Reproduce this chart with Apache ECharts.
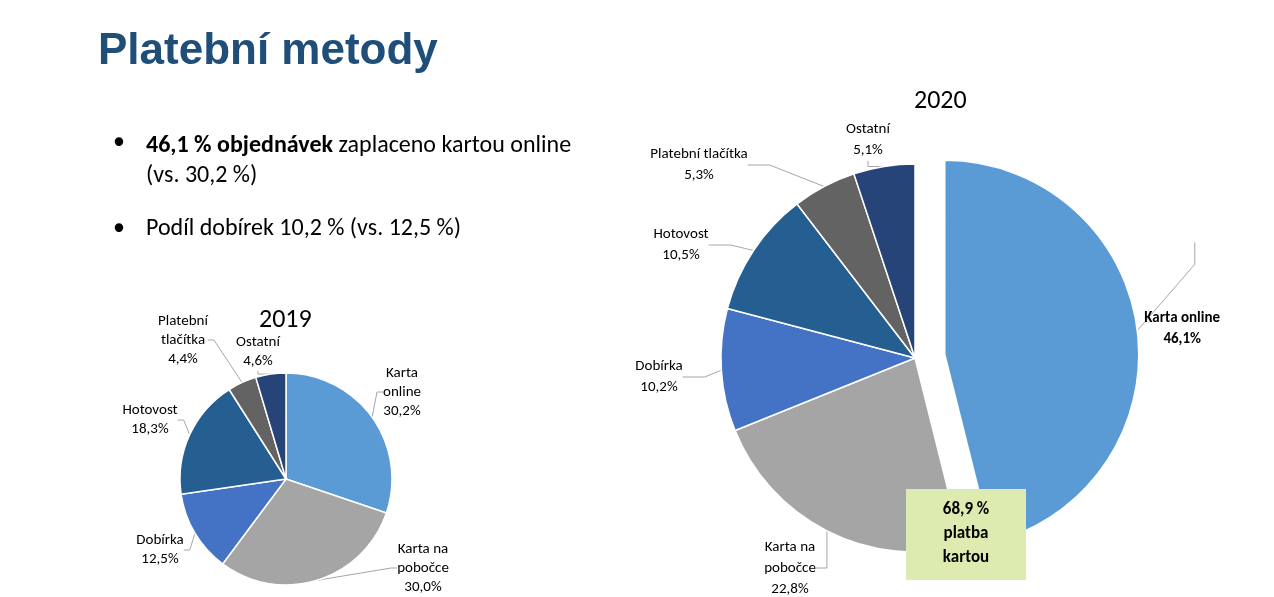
<!DOCTYPE html>
<html>
<head>
<meta charset="utf-8">
<script src="https://cdn.jsdelivr.net/npm/echarts@6/dist/echarts.min.js"></script>
<style>
  html, body { margin: 0; padding: 0; background: #fff; }
  #chart { width: 1274px; height: 597px; }
</style>
</head>
<body>
<div id="chart"></div>
<script>
// Data
let categories2019 = ["Karta\nonline", "Karta na\npobočce", "Dobírka", "Hotovost", "Platební\ntlačítka", "Ostatní"];
let values2019 = [30.2, 30.0, 12.5, 18.3, 4.4, 4.6];
let categories2020 = ["Karta online", "Karta na\npobočce", "Dobírka", "Hotovost", "Platební tlačítka", "Ostatní"];
let values2020 = [46.1, 22.8, 10.2, 10.5, 5.3, 5.1];
let sliceColors = ["#5B9BD5", "#A5A5A5", "#4472C4", "#255E91", "#636363", "#264478"];

let FONT = "Calibri, Carlito, 'Liberation Sans', 'Open Sans', sans-serif";

// label centres, per series, same order as the slices
let labelSpots = [
  [[402, 392], [423, 568], [160, 550], [150, 420], [183, 340], [258, 352]],
  [[1165, 225], [790, 568], [659, 377], [681, 245], [699, 165], [868, 140]]
];

function fmt(v) {
  return String(v.toFixed(1)).replace(".", ",") + "%";
}

function buildData(cats, vals, selectFirst) {
  return cats.map(function (c, i) {
    let d = { name: c, value: vals[i], itemStyle: { color: sliceColors[i] } };
    if (selectFirst && i === 0) {
      d.selected = true;
      d.label = { fontWeight: "bold" };
    }
    return d;
  });
}

function layoutFn(params) {
  let p = labelSpots[params.seriesIndex][params.dataIndex];
  return { x: p[0], y: p[1], align: "center", verticalAlign: "middle" };
}

let chart = echarts.init(document.getElementById("chart"));

chart.setOption({
  animation: false,
  textStyle: { fontFamily: FONT },
  graphic: [
    { type: "text", left: 98, top: 30, style: { text: "Platební metody", font: "bold 44px 'Liberation Sans', Arial, sans-serif", fill: "#1F4E79" } },
    { type: "text", left: 113, top: 131, style: { text: "•", font: "24px " + FONT, fill: "#000" } },
    { type: "text", left: 146, top: 131, style: {
        text: "{b|46,1 % objednávek} zaplaceno kartou online\n(vs. 30,2 %)",
        font: "24px " + FONT, fill: "#000", lineHeight: 30,
        rich: { b: { fontWeight: "bold", fontSize: 24, fontFamily: FONT } } } },
    { type: "text", left: 113, top: 217, style: { text: "•", font: "24px " + FONT, fill: "#000" } },
    { type: "text", left: 146, top: 217, style: { text: "Podíl dobírek 10,2 % (vs. 12,5 %)", font: "24px " + FONT, fill: "#000" } },
    { type: "text", left: 259, top: 307, style: { text: "2019", font: "26px " + FONT, fill: "#000" } },
    { type: "text", left: 914, top: 88, style: { text: "2020", font: "26px " + FONT, fill: "#000" } },
    { type: "rect", shape: { x: 906, y: 489, width: 120, height: 91 }, style: { fill: "#DDEBB0" }, z: 10 },
    { type: "text", z: 11, style: {
        x: 966, y: 534, text: "68,9 %\nplatba\nkartou", font: "bold 17px " + FONT, fill: "#000",
        align: "center", verticalAlign: "middle", lineHeight: 24 } }
  ],
  series: [
    {
      type: "pie",
      center: [286, 479],
      radius: 106,
      startAngle: 90,
      clockwise: true,
      data: buildData(categories2019, values2019, false),
      itemStyle: { borderColor: "#fff", borderWidth: 1.5 },
      label: {
        show: true, position: "outside", color: "#000", fontSize: 15, lineHeight: 19,
        fontFamily: FONT, align: "center",
        formatter: function (p) { return p.name + "\n" + fmt(p.value); }
      },
      labelLine: { show: true, length: 8, length2: 6, lineStyle: { color: "#A6A6A6" } },
      labelLayout: layoutFn
    },
    {
      type: "pie",
      center: [915, 358],
      radius: 194,
      startAngle: 90,
      clockwise: true,
      selectedMode: "single",
      selectedOffset: 30,
      data: buildData(categories2020, values2020, true),
      itemStyle: { borderColor: "#fff", borderWidth: 1.5 },
      label: {
        show: true, position: "outside", color: "#000", fontSize: 15, lineHeight: 21,
        fontFamily: FONT, align: "center",
        formatter: function (p) { return p.name + "\n" + fmt(p.value); }
      },
      labelLine: { show: true, length: 18, length2: 22, lineStyle: { color: "#A6A6A6" } },
      labelLayout: layoutFn
    }
  ]
});
</script>
</body>
</html>
